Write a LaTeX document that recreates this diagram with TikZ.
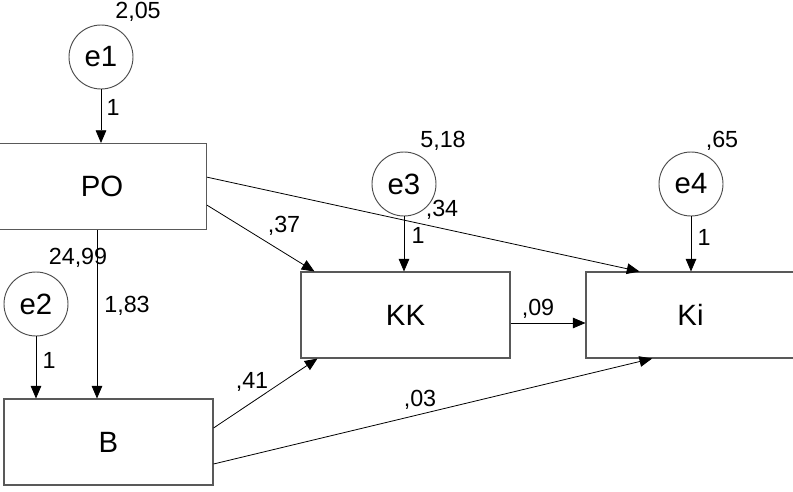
\documentclass[tikz,border=0pt]{standalone}
\usepackage{fontspec}
\setmainfont{Liberation Sans}
\usetikzlibrary{arrows.meta, positioning, calc}

\tikzset{
  obsbox/.style={draw=black!65, line width=0.8pt, minimum width=156.75pt, minimum height=64.5pt,
    inner sep=0pt, font=\fontsize{22}{25}\selectfont},
  errcirc/.style={circle, draw=black!70, line width=0.7pt, minimum size=48pt, inner sep=0pt,
    font=\fontsize{22}{25}\selectfont},
  path/.style={-{Triangle[length=9.5pt,width=8pt]}, line width=0.6pt},
  coef/.style={inner sep=0pt, font=\fontsize{17.5}{20}\selectfont}
}

\begin{document}
\begin{tikzpicture}[x=0.75pt,y=-0.75pt]
  \useasboundingbox (0,0) rectangle (793,492);
  % observed variables
  \node[obsbox] (PO) at (102,186.5) {PO};
  \node[obsbox] (B)  at (108.5,442) {B};
  \node[obsbox] (KK) at (405.5,315) {KK};
  \node[obsbox] (Ki) at (690.5,315) {Ki};
  % error terms
  \node[errcirc] (e1) at (101,57) {e1};
  \node[errcirc] (e2) at (36,304) {e2};
  \node[errcirc] (e3) at (404,184) {e3};
  \node[errcirc] (e4) at (691,184) {e4};
  % paths
  \draw[path] (e1) -- (e1 |- PO.north);
  \draw[path] (e2) -- (e2 |- B.north);
  \draw[path] (e3) -- (e3 |- KK.north);
  \draw[path] (e4) -- (e4 |- Ki.north);
  \draw[path] ([xshift=-3.75pt]PO.south) -- ([xshift=-3.75pt]PO.south |- B.north);
  \draw[path] ([yshift=-14pt]PO.east) -- ([xshift=10.5pt]KK.north west);
  \draw[path] ([yshift=7pt]PO.east) -- ([xshift=40.5pt]Ki.north west);
  \draw[path] ([yshift=10.5pt]B.east) -- ([xshift=12.75pt]KK.south west);
  \draw[path] ([yshift=-16.5pt]B.east) -- ([xshift=50pt]Ki.south west);
  \draw[path] ([yshift=-6pt]KK.east) -- ([yshift=-6pt]Ki.west);
  % estimates
  \node[coef] (v1) at (138,12) {2,05};
  \node[coef] (v2) at (78,258) {24,99};
  \node[coef] (v3) at (443,141) {5,18};
  \node[coef] (v4) at (722,141) {,65};
  \node[coef] (w1) at (113,107) {1};
  \node[coef] (w2) at (49,360) {1};
  \node[coef] (w3) at (418,235) {1};
  \node[coef] (w4) at (704,237) {1};
  \node[coef] (b1) at (127,306) {1,83};
  \node[coef] (b2) at (284,226) {,37};
  \node[coef] (b3) at (442,210) {,34};
  \node[coef] (b4) at (252,382) {,41};
  \node[coef] (b5) at (420,400) {,03};
  \node[coef] (b6) at (538,309) {,09};
\end{tikzpicture}
\end{document}
